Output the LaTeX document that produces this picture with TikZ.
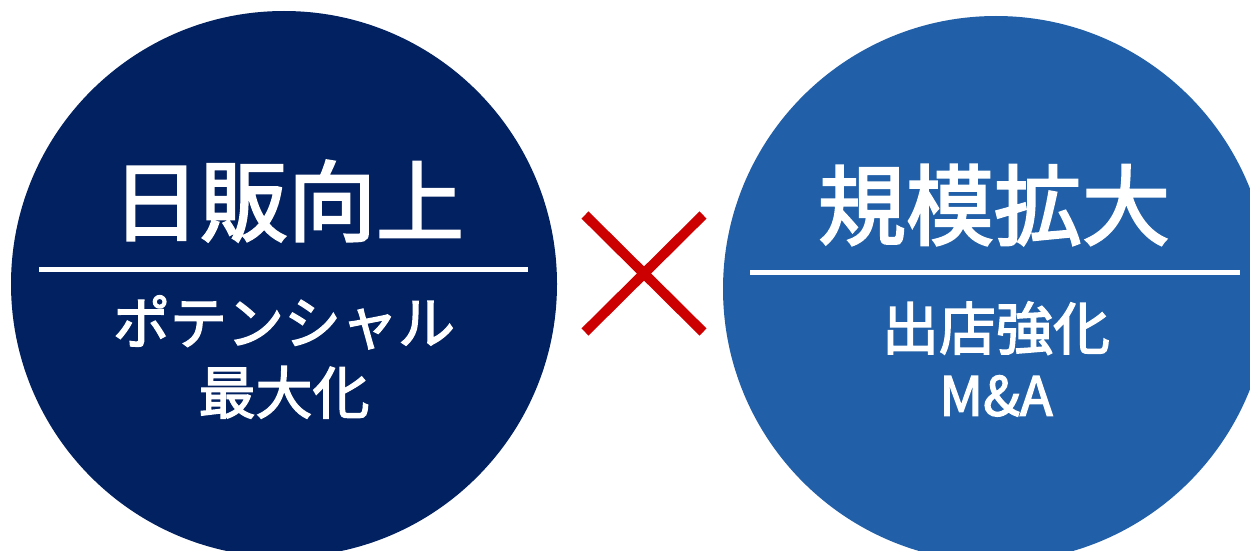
\documentclass[tikz,border=0pt]{standalone}
\usepackage{fontspec}
\setmainfont{Noto Sans CJK JP}
\newfontfamily\cjkmed[FakeBold=2.5]{Noto Sans CJK JP}
\definecolor{navy}{RGB}{2,33,96}
\definecolor{midblue}{RGB}{33,96,168}
\definecolor{xred}{RGB}{204,0,0}
\tikzset{
  disc/.style={circle, minimum size=546pt, inner sep=0pt, draw=none},
  title/.style={text=white, font=\cjkmed\fontsize{88}{100}\selectfont, inner sep=0pt},
  sub/.style={text=white, font=\cjkmed\fontsize{57}{70}\selectfont, inner sep=0pt, align=center},
  rule/.style={white, line width=5pt},
  cross/.style={xred, line width=10pt}
}
\begin{document}
\begin{tikzpicture}[x=1pt,y=-1pt]
\clip (0,0) rectangle (1250,551);
\fill[white] (0,0) rectangle (1250,551);
\node[disc, fill=navy] (L) at (284,284) {};
\node[disc, fill=midblue] (R) at (996,289) {};
\node[title] (Lt) at (288,201) {日販向上};
\node[title] (Rt) at (994,205) {規模拡大};
\coordinate (L1) at (39,269);
\coordinate (L2) at (528,269);
\coordinate (R1) at (750,272);
\coordinate (R2) at (1240,272);
\draw[rule] (L1) -- (L2);
\draw[rule] (R1) -- (R2);
\node[sub] (Ls) at (284,357) {ポテンシャル\\最大化};
\node[sub] (Rs) at (996,359) {出店強化\\[-4pt]{\fontsize{54}{70}\selectfont M\&A}};
\coordinate (X1) at (585,215);
\coordinate (X2) at (703,332);
\coordinate (X3) at (703,215);
\coordinate (X4) at (585,332);
\draw[cross] (X1) -- (X2);
\draw[cross] (X3) -- (X4);
\end{tikzpicture}
\end{document}
